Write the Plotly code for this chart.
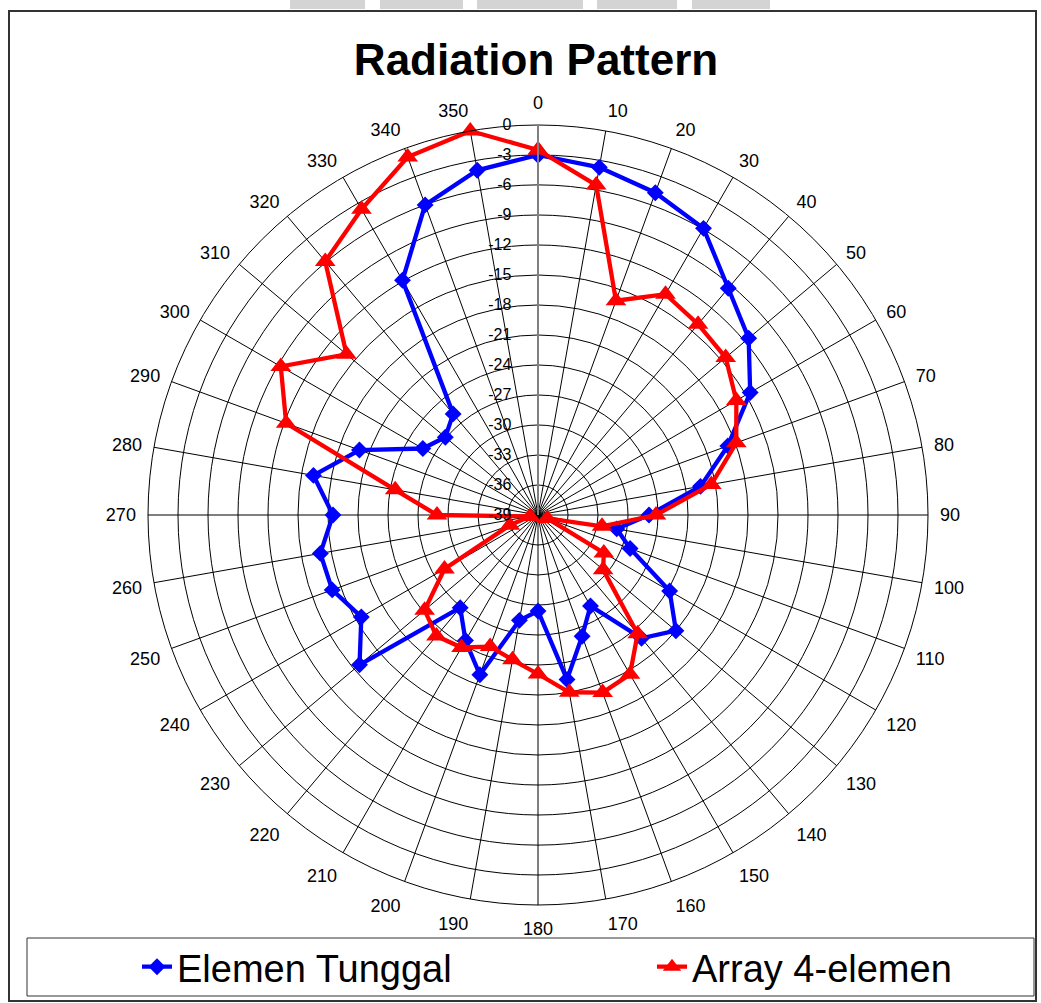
import plotly.graph_objects as go

# Azimuth (degrees), clockwise from the top
angles = list(range(0, 360, 10))

# Normalised gain in dB at each azimuth
elemen_tunggal = [
    -3.0, -3.7, -4.7, -5.9, -9.4, -11.5, -14.5, -18.8, -22.5, -27.9,
    -31.0, -29.2, -23.8, -21.0, -22.9, -28.5, -26.1, -22.3, -29.4, -28.3,
    -22.0, -24.5, -26.9, -15.7, -18.6, -17.1, -16.9, -18.5, -16.2, -20.0,
    -25.7, -26.9, -25.8, -11.9, -6.0, -4.0,
]
array_4_elemen = [
    -2.5, -5.5, -16.2, -13.5, -14.1, -14.5, -16.1, -17.9, -21.4, -27.2,
    -32.5, -38.0, -31.4, -30.5, -23.5, -20.6, -20.1, -21.0, -23.1, -24.3,
    -25.0, -23.7, -23.2, -24.2, -28.2, -36.0, -38.2, -28.9, -24.5, -12.2,
    -9.3, -14.0, -5.9, -3.7, -0.9, 0.0,
]
radial_ticks = list(range(-39, 1, 3))
radial_labels = [str(v) for v in radial_ticks]
angle_labels = [str(a) for a in angles]

W, H = 1041, 1003
CX, CY, R = 538, 515, 390
FONT = "Liberation Sans, Arial, sans-serif"


def px(x):
    return x / W


def py(y):
    return 1 - y / H


fig = go.Figure()

series = [
    ("Elemen Tunggal", elemen_tunggal, "#0000FF", "diamond", 13, "legend"),
    ("Array 4-elemen", array_4_elemen, "#FF0000", "triangle-up", 18, "legend2"),
]
for name, vals, color, symbol, size, leg in series:
    # close the loop back to 0 degrees
    fig.add_trace(go.Scatterpolar(
        r=vals + vals[:1],
        theta=angles + angles[:1],
        mode="lines+markers",
        name=name,
        legend=leg,
        cliponaxis=False,
        line=dict(color=color, width=4.3),
        marker=dict(symbol=symbol, size=size, color=color),
    ))

legend_common = dict(
    orientation="h",
    y=py(967), yanchor="middle",
    xanchor="left",
    font=dict(size=38, color="black", family=FONT),
    bgcolor="rgba(0,0,0,0)",
    borderwidth=0,
)

# light grey band along the top edge of the page
band_segments = [(290, 365), (380, 463), (477, 583), (597, 677), (692, 770)]
band_shapes = [
    dict(type="rect", xref="paper", yref="paper",
         x0=px(a), x1=px(b), y0=py(9), y1=py(0),
         fillcolor="#d4d4d4", line=dict(width=0), layer="below")
    for a, b in band_segments
]

fig.update_layout(
    width=W,
    height=H,
    margin=dict(l=0, r=0, t=0, b=0),
    paper_bgcolor="white",
    font=dict(family=FONT, color="black"),
    title=dict(
        text="<b>Radiation Pattern</b>",
        font=dict(size=44, color="black", family=FONT),
        x=px(536), xanchor="center", xref="paper",
        y=py(60), yanchor="middle", yref="paper",
    ),
    polar=dict(
        domain=dict(x=[px(CX - R), px(CX + R)], y=[py(CY + R), py(CY - R)]),
        bgcolor="white",
        angularaxis=dict(
            tickmode="array",
            tickvals=angles,
            ticktext=angle_labels,
            direction="clockwise",
            rotation=90,
            showgrid=True,
            gridcolor="black",
            gridwidth=1,
            showline=True,
            linecolor="black",
            linewidth=1,
            ticks="outside",
            ticklen=8,
            tickcolor="rgba(0,0,0,0)",
            tickfont=dict(size=18, color="black"),
        ),
        radialaxis=dict(
            range=[-39, 0],
            tickmode="array",
            tickvals=radial_ticks,
            ticktext=radial_labels,
            angle=90,
            tickangle=90,
            side="counterclockwise",
            showline=True,
            linecolor="#808080",
            linewidth=2,
            showgrid=True,
            gridcolor="black",
            gridwidth=1,
            ticks="outside",
            ticklen=20,
            tickcolor="rgba(0,0,0,0)",
            tickfont=dict(size=16, color="black"),
        ),
    ),
    showlegend=True,
    legend=dict(x=px(137), **legend_common),
    legend2=dict(x=px(652), **legend_common),
    shapes=band_shapes + [
        # chart frame
        dict(type="rect", xref="paper", yref="paper",
             x0=px(9), x1=px(1036), y0=py(1001), y1=py(11),
             line=dict(color="#333333", width=2), layer="below"),
        # legend frame
        dict(type="rect", xref="paper", yref="paper",
             x0=px(27), x1=px(1034), y0=py(996), y1=py(938),
             line=dict(color="#333333", width=1), layer="below"),
    ],
)

fig.write_html("out.html")
